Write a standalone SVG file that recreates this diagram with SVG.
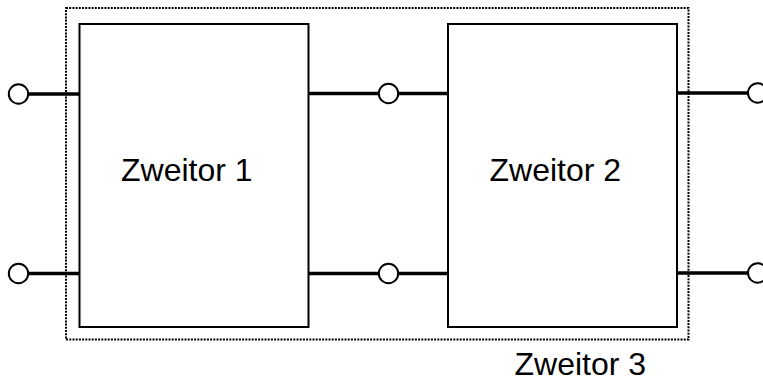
<svg xmlns="http://www.w3.org/2000/svg" width="763" height="383" viewBox="0 0 763 383">
<style>
.box{fill:none;stroke:#000;stroke-width:2}
.frame{fill:none;stroke:#000;stroke-width:2;stroke-dasharray:2 1.2}
.wire{stroke:#000;stroke-width:3.5;fill:none}
.term{fill:#fff;stroke:#000;stroke-width:2}
.lbl{font-family:"Liberation Sans",Arial,sans-serif;font-size:32px;fill:#000}
</style>
<rect fill="#fff" width="763" height="383"/>
<g id="zweitor3">
<rect class="frame" x="66" y="8" width="622.5" height="331.5"/>
<text class="lbl" x="514.5" y="375">Zweitor 3</text>
</g>
<g id="connectors">
<line class="wire" x1="28" y1="94" x2="79.5" y2="94"/>
<line class="wire" x1="28" y1="273.5" x2="79.5" y2="273.5"/>
<line class="wire" x1="308" y1="93.5" x2="448" y2="93.5"/>
<line class="wire" x1="308" y1="273.5" x2="448" y2="273.5"/>
<line class="wire" x1="677" y1="93" x2="748" y2="93"/>
<line class="wire" x1="677" y1="273" x2="748" y2="273"/>
</g>
<g id="zweitor1">
<rect class="box" x="79.5" y="24" width="229" height="303"/>
<text class="lbl" x="121" y="181">Zweitor 1</text>
</g>
<g id="zweitor2">
<rect class="box" x="448" y="24" width="229" height="303"/>
<text class="lbl" x="489.5" y="180.5">Zweitor 2</text>
</g>
<g id="t1"><circle class="term" cx="18.5" cy="94" r="9.7"/></g>
<g id="t2"><circle class="term" cx="18.5" cy="273.5" r="9.7"/></g>
<g id="t3"><circle class="term" cx="388.5" cy="93.5" r="9.7"/></g>
<g id="t4"><circle class="term" cx="388.5" cy="273.5" r="9.7"/></g>
<g id="t5"><circle class="term" cx="757.7" cy="93" r="9.7"/></g>
<g id="t6"><circle class="term" cx="757.7" cy="273" r="9.7"/></g>
</svg>
